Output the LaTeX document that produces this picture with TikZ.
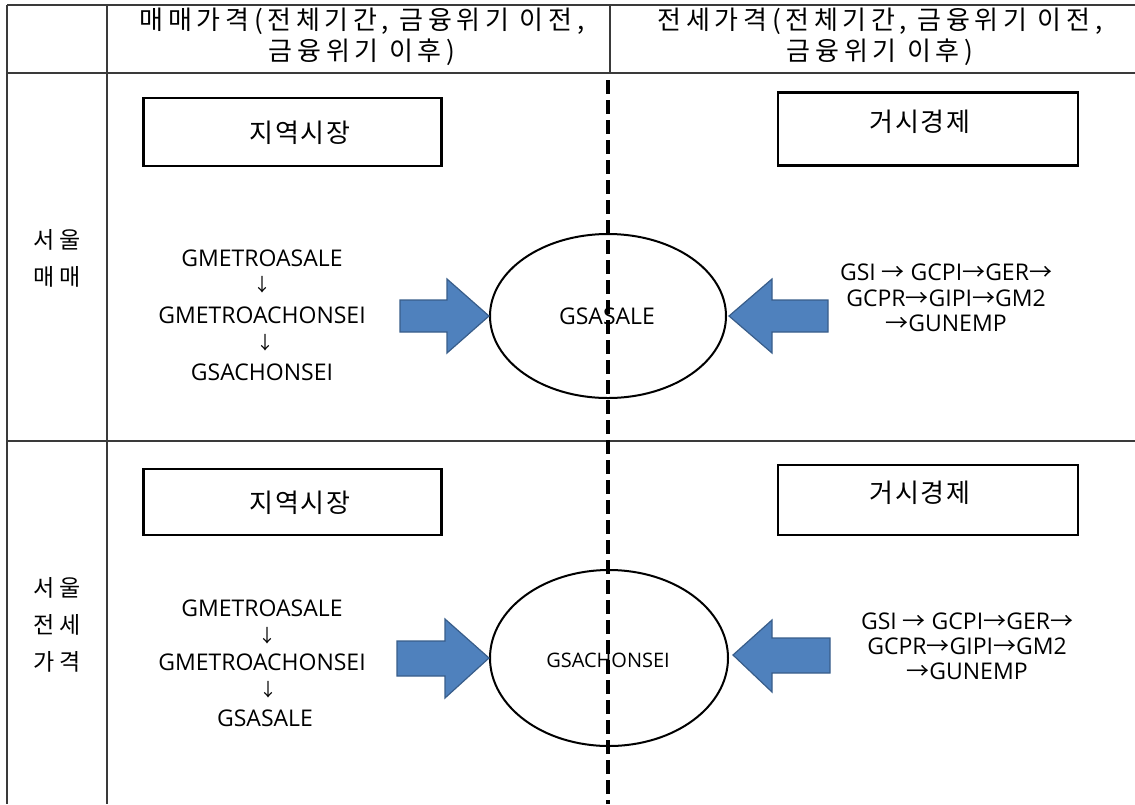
\documentclass[tikz,border=0pt]{standalone}
\usepackage{fontspec}
\setmainfont{Open Sans}
\newfontfamily\kr{Noto Sans CJK KR}
\newfontfamily\krb[LetterSpace=6]{Noto Sans CJK KR}
\newfontfamily\krh[LetterSpace=18]{Noto Sans CJK KR}
\usetikzlibrary{shapes.geometric}
\definecolor{arrblue}{HTML}{4F81BD}
\definecolor{arrline}{HTML}{385D8A}
\definecolor{rulec}{HTML}{3A3A3A}
\newcommand\ra{{\kr →}}
\begin{document}
\begin{tikzpicture}[x=1pt,y=-1pt,
 tline/.style={draw=rulec,line width=1.2pt},
 hdr/.style={font=\krh\fontsize{26}{31}\selectfont,align=center,inner sep=0},
 rowlab/.style={font=\krh\fontsize{23}{37}\selectfont,align=center,inner sep=0},
 boxnode/.style={draw,line width=2.8pt,minimum width=298pt,inner sep=0},
 boxtxt/.style={font=\krb\fontsize{26}{28}\selectfont,inner sep=0},
 lab/.style={font=\fontsize{23}{26}\selectfont,inner sep=0},
 downarr/.style={font=\kr\fontsize{18}{20}\selectfont,inner sep=0},
 ell/.style={draw,line width=2pt,ellipse,inner sep=0},
 bluearrow/.style={fill=arrblue,draw=arrline,line width=1.2pt,line join=miter},
 divider/.style={line width=3.5pt,dash pattern=on 14pt off 6pt}
]
\useasboundingbox (0,0) rectangle (1135,804);
% table
\coordinate (tl) at (7,5);
\coordinate (tr) at (1135,5);
\coordinate (hl) at (7,73);
\coordinate (hr) at (1135,73);
\coordinate (ml) at (7,441);
\coordinate (mr) at (1135,441);
\coordinate (bl) at (7,804);
\coordinate (c1t) at (107,5);
\coordinate (c1b) at (107,804);
\coordinate (c2t) at (610,5);
\coordinate (c2b) at (610,73);
\draw[tline] (tl) -- (tr);
\draw[tline] (hl) -- (hr);
\draw[tline] (ml) -- (mr);
\draw[tline] (tl) -- (bl);
\draw[tline] (c1t) -- (c1b);
\draw[tline] (c2t) -- (c2b);
% header
\node[hdr] (h1) at (362,37) {매매가격(전체기간, 금융위기 이전,\\금융위기 이후)};
\node[hdr] (h2) at (880,37) {전세가격(전체기간, 금융위기 이전,\\금융위기 이후)};
% row labels
\node[rowlab] (r1) at (57,258) {서울\\매매};
\node[rowlab] (r2) at (57,625) {서울\\전세\\가격};
% dashed divider
\coordinate (dt) at (608,80);
\coordinate (db) at (608,804);
\draw[divider] (dt) -- (db);
% ---- row 1
\node[boxnode,minimum height=68pt] (b1) at (292.5,132) {};
\node[boxtxt] (b1t) at (300,133) {지역시장};
\node[boxnode,minimum height=73pt,minimum width=300pt] (b2) at (928,129) {};
\node[boxtxt] (b2t) at (920,122) {거시경제};
\node[lab] (l1a) at (262,258) {GMETROASALE};
\node[downarr] (l1b) at (262,285) {↓};
\node[lab] (l1c) at (262,315) {GMETROACHONSEI};
\node[downarr] (l1d) at (265,343) {↓};
\node[lab] (l1e) at (262,372) {GSACHONSEI};
\node[ell,minimum width=236pt,minimum height=164pt] (e1) at (608,316) {};
\node[lab] (e1t) at (607,316) {GSASALE};
\draw[bluearrow] (400,300) -- (447,300) -- (447,279) -- (e1.west) -- (447,353) -- (447,332) -- (400,332) -- cycle;
\draw[bluearrow] (729,316) -- (772,279) -- (772,300) -- (828,300) -- (828,332) -- (772,332) -- (772,353) -- cycle;
\node[lab] (m1a) at (946,272) {GSI \ra{} GCPI\ra GER\ra};
\node[lab] (m1b) at (946,298) {GCPR\ra GIPI\ra GM2};
\node[lab] (m1c) at (946,323) {\ra GUNEMP};
% ---- row 3
\node[boxnode,minimum height=66pt] (b3) at (292.5,502) {};
\node[boxtxt] (b3t) at (300,503) {지역시장};
\node[boxnode,minimum height=70pt,minimum width=300pt] (b4) at (928,500) {};
\node[boxtxt] (b4t) at (920,493) {거시경제};
\node[lab] (l2a) at (262,608) {GMETROASALE};
\node[downarr] (l2b) at (267,636) {↓};
\node[lab] (l2c) at (262,662) {GMETROACHONSEI};
\node[downarr] (l2d) at (268,690) {↓};
\node[lab] (l2e) at (265,718) {GSASALE};
\node[ell,minimum width=238pt,minimum height=176pt] (e2) at (609,658) {};
\node[lab,font=\fontsize{20}{22}\selectfont] (e2t) at (608,660) {GSACHONSEI};
\draw[bluearrow] (397,641) -- (445,641) -- (445,619) -- (e2.west) -- (445,698) -- (445,676) -- (397,676) -- cycle;
\draw[bluearrow] (733,655) -- (772,620) -- (772,638) -- (830,638) -- (830,673) -- (772,673) -- (772,692) -- cycle;
\node[lab] (m2a) at (967,621) {GSI \ra{} GCPI\ra GER\ra};
\node[lab] (m2b) at (967,646) {GCPR\ra GIPI\ra GM2};
\node[lab] (m2c) at (967,671) {\ra GUNEMP};
\end{tikzpicture}
\end{document}
